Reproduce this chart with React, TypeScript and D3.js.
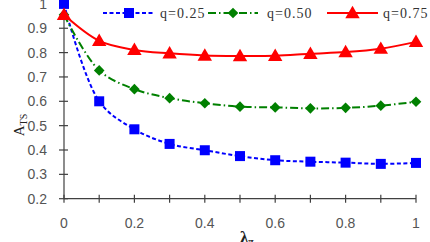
import React from 'react';
import * as d3 from 'd3';

const lambdas = [0, 0.1, 0.2, 0.3, 0.4, 0.5, 0.6, 0.7, 0.8, 0.9, 1];
const q25 = [1.0, 0.6, 0.485, 0.425, 0.399, 0.375, 0.358, 0.352, 0.348, 0.343, 0.347];
const q50 = [0.955, 0.727, 0.65, 0.613, 0.592, 0.578, 0.575, 0.571, 0.573, 0.582, 0.598];
const q75 = [0.955, 0.848, 0.811, 0.797, 0.788, 0.786, 0.787, 0.795, 0.802, 0.816, 0.844];
const yTicks = [0.2, 0.3, 0.4, 0.5, 0.6, 0.7, 0.8, 0.9, 1];
const xLabels = [0, 0.2, 0.4, 0.6, 0.8, 1];

const W = 430;
const H = 242;

const x = d3.scaleLinear().domain([0, 1]).range([64, 416]);
const y = d3.scaleLinear().domain([0.2, 1]).range([198.7, 3.9]);

const series = [
  { name: 'q=0.25', values: q25, color: '#0000ff', dash: '4,2.5', marker: 'square', lx: [103, 155], tx: 160 },
  { name: 'q=0.50', values: q50, color: '#008000', dash: '8,3,1.5,3', marker: 'diamond', lx: [208, 258], tx: 267 },
  { name: 'q=0.75', values: q75, color: '#ff0000', dash: null, marker: 'triangle', lx: [327, 378], tx: 383 },
];

function marker(kind: string, cx: number, cy: number, color: string, key: any) {
  if (kind === 'square') {
    return <rect key={key} x={cx - 5} y={cy - 5} width={10} height={10} fill={color} />;
  }
  if (kind === 'diamond') {
    const p = d3.symbol(d3.symbolDiamond2, 72)();
    return <path key={key} d={p || ''} transform={`translate(${cx},${cy})`} fill={color} />;
  }
  const p = d3.symbol(d3.symbolTriangle, 90)();
  return <path key={key} d={p || ''} transform={`translate(${cx},${cy + 1})`} fill={color} />;
}

export default function App() {
  const line = d3
    .line<number>()
    .x((_, i) => x(lambdas[i]))
    .y((d) => y(d))
    .curve(d3.curveCatmullRom.alpha(0.5));

  const axisColor = '#404040';
  const tickFont = { fontFamily: 'Liberation Sans, Arial, sans-serif', fontSize: 14, fill: '#555' };

  return (
    <svg width={W} height={H} style={{ position: 'absolute', left: 0, top: 0, background: '#fff' }}>
      <rect width={W} height={H} fill="#fff" />
      {/* axes */}
      <line x1={x(0)} x2={x(0)} y1={y(1)} y2={y(0.2)} stroke={axisColor} strokeWidth={1.2} />
      <line x1={x(0)} x2={x(1)} y1={y(0.2)} y2={y(0.2)} stroke={axisColor} strokeWidth={1.2} />
      {yTicks.map((t) => (
        <g key={'y' + t}>
          <line x1={x(0) - 5} x2={x(0) + 4} y1={y(t)} y2={y(t)} stroke={axisColor} strokeWidth={1.2} />
          <text x={47} y={y(t) + 5} textAnchor="end" {...tickFont}>
            {t === 1 ? '1' : t.toFixed(1)}
          </text>
        </g>
      ))}
      {lambdas.map((t) => (
        <line key={'x' + t} x1={x(t)} x2={x(t)} y1={y(0.2) - 4} y2={y(0.2) + 4} stroke={axisColor} strokeWidth={1.2} />
      ))}
      {xLabels.map((t) => (
        <text key={'xl' + t} x={x(t)} y={228} textAnchor="middle" {...tickFont}>
          {t === 0 || t === 1 ? String(t) : t.toFixed(1)}
        </text>
      ))}

      {/* axis titles */}
      <text
        transform="translate(24,125) rotate(-90)"
        textAnchor="middle"
        fontFamily="Liberation Serif, Times New Roman, serif"
        fontSize={15}
        fill="#222"
      >
        A<tspan fontSize={10} dy={3}>TS</tspan>
      </text>
      <text
        x={240}
        y={243}
        fontFamily="Liberation Serif, Times New Roman, serif"
        fontSize={17}
        fontWeight="bold"
        fill="#222"
      >
        λ<tspan fontSize={10} dy={2}>π</tspan>
      </text>

      {/* series */}
      {series.map((s) => (
        <g key={s.name}>
          <path
            d={line(s.values) || ''}
            fill="none"
            stroke={s.color}
            strokeWidth={2}
            strokeDasharray={s.dash || undefined}
          />
          {s.values.map((v, i) => marker(s.marker, x(lambdas[i]), y(v), s.color, i))}
        </g>
      ))}

      {/* legend */}
      {series.map((s) => (
        <g key={'lg' + s.name}>
          <line
            x1={s.lx[0]}
            x2={s.lx[1]}
            y1={13}
            y2={13}
            stroke={s.color}
            strokeWidth={2}
            strokeDasharray={s.dash || undefined}
          />
          {marker(s.marker, (s.lx[0] + s.lx[1]) / 2, 13, s.color, 'm')}
          <text
            x={s.tx}
            y={18}
            fontFamily="Liberation Serif, Times New Roman, serif"
            fontSize={14}
            letterSpacing={1}
            fill="#333"
          >
            {s.name}
          </text>
        </g>
      ))}
    </svg>
  );
}
